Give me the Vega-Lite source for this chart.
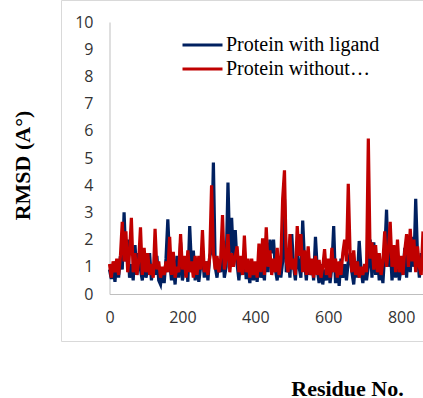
{
  "$schema": "https://vega.github.io/schema/vega-lite/v6.json",
  "width": 370,
  "height": 341,
  "autosize": "none",
  "padding": {"left": 61, "top": 0, "right": 0, "bottom": 57},
  "background": "white",
  "config": {
    "view": {"stroke": "#d9d9d9", "strokeWidth": 1},
    "axis": {
      "domainColor": "#bfbfbf",
      "ticks": false,
      "grid": false,
      "labelFont": "Open Sans",
      "labelFontSize": 16,
      "labelColor": "#333333",
      "titleFont": "Liberation Serif",
      "titleFontSize": 22,
      "titleFontWeight": "bold",
      "titleColor": "#000000"
    }
  },
  "data": {"values": [
    {"r":0,"Protein with ligand":0.9,"Protein without…":1.1},
    {"r":5,"Protein with ligand":0.55,"Protein without…":0.6},
    {"r":10,"Protein with ligand":1.0,"Protein without…":1.2},
    {"r":15,"Protein with ligand":0.45,"Protein without…":0.8},
    {"r":20,"Protein with ligand":1.2,"Protein without…":1.3},
    {"r":25,"Protein with ligand":0.6,"Protein without…":0.7},
    {"r":30,"Protein with ligand":1.4,"Protein without…":1.4},
    {"r":35,"Protein with ligand":0.9,"Protein without…":2.65},
    {"r":40,"Protein with ligand":3.0,"Protein without…":1.2},
    {"r":45,"Protein with ligand":1.2,"Protein without…":2.3},
    {"r":50,"Protein with ligand":2.0,"Protein without…":0.8},
    {"r":55,"Protein with ligand":0.6,"Protein without…":1.5},
    {"r":60,"Protein with ligand":1.1,"Protein without…":2.8},
    {"r":65,"Protein with ligand":0.5,"Protein without…":0.8},
    {"r":70,"Protein with ligand":1.8,"Protein without…":1.5},
    {"r":75,"Protein with ligand":0.7,"Protein without…":0.7},
    {"r":80,"Protein with ligand":1.5,"Protein without…":1.2},
    {"r":85,"Protein with ligand":0.9,"Protein without…":2.45},
    {"r":90,"Protein with ligand":0.5,"Protein without…":0.7},
    {"r":95,"Protein with ligand":1.3,"Protein without…":1.7},
    {"r":100,"Protein with ligand":0.6,"Protein without…":0.8},
    {"r":105,"Protein with ligand":0.9,"Protein without…":1.5},
    {"r":110,"Protein with ligand":1.5,"Protein without…":0.7},
    {"r":115,"Protein with ligand":0.5,"Protein without…":1.1},
    {"r":120,"Protein with ligand":1.0,"Protein without…":0.6},
    {"r":125,"Protein with ligand":0.7,"Protein without…":2.4},
    {"r":130,"Protein with ligand":1.4,"Protein without…":0.9},
    {"r":135,"Protein with ligand":0.5,"Protein without…":1.2},
    {"r":140,"Protein with ligand":0.35,"Protein without…":0.6},
    {"r":145,"Protein with ligand":0.9,"Protein without…":1.0},
    {"r":150,"Protein with ligand":0.4,"Protein without…":0.7},
    {"r":155,"Protein with ligand":1.3,"Protein without…":1.2},
    {"r":160,"Protein with ligand":2.75,"Protein without…":0.8},
    {"r":165,"Protein with ligand":1.2,"Protein without…":2.1},
    {"r":170,"Protein with ligand":0.5,"Protein without…":0.7},
    {"r":175,"Protein with ligand":1.0,"Protein without…":1.55},
    {"r":180,"Protein with ligand":0.35,"Protein without…":0.6},
    {"r":185,"Protein with ligand":1.4,"Protein without…":1.0},
    {"r":190,"Protein with ligand":0.6,"Protein without…":0.8},
    {"r":195,"Protein with ligand":1.9,"Protein without…":2.2},
    {"r":200,"Protein with ligand":0.5,"Protein without…":0.9},
    {"r":205,"Protein with ligand":0.9,"Protein without…":1.4},
    {"r":210,"Protein with ligand":1.3,"Protein without…":0.6},
    {"r":215,"Protein with ligand":0.45,"Protein without…":1.6},
    {"r":220,"Protein with ligand":2.5,"Protein without…":0.8},
    {"r":225,"Protein with ligand":1.0,"Protein without…":1.2},
    {"r":230,"Protein with ligand":1.6,"Protein without…":0.6},
    {"r":235,"Protein with ligand":0.5,"Protein without…":1.4},
    {"r":240,"Protein with ligand":1.2,"Protein without…":0.7},
    {"r":245,"Protein with ligand":0.45,"Protein without…":1.4},
    {"r":250,"Protein with ligand":1.0,"Protein without…":0.9},
    {"r":255,"Protein with ligand":1.5,"Protein without…":2.35},
    {"r":260,"Protein with ligand":0.6,"Protein without…":0.8},
    {"r":265,"Protein with ligand":1.2,"Protein without…":1.2},
    {"r":270,"Protein with ligand":0.5,"Protein without…":0.7},
    {"r":275,"Protein with ligand":1.4,"Protein without…":1.4},
    {"r":280,"Protein with ligand":1.6,"Protein without…":4.0},
    {"r":285,"Protein with ligand":4.83,"Protein without…":1.5},
    {"r":290,"Protein with ligand":1.0,"Protein without…":0.9},
    {"r":295,"Protein with ligand":0.6,"Protein without…":1.4},
    {"r":300,"Protein with ligand":1.3,"Protein without…":0.8},
    {"r":305,"Protein with ligand":0.8,"Protein without…":1.3},
    {"r":310,"Protein with ligand":1.9,"Protein without…":2.9},
    {"r":315,"Protein with ligand":0.6,"Protein without…":0.9},
    {"r":320,"Protein with ligand":1.0,"Protein without…":1.3},
    {"r":325,"Protein with ligand":4.1,"Protein without…":2.2},
    {"r":330,"Protein with ligand":1.5,"Protein without…":0.8},
    {"r":335,"Protein with ligand":2.8,"Protein without…":1.5},
    {"r":340,"Protein with ligand":1.3,"Protein without…":1.0},
    {"r":345,"Protein with ligand":2.35,"Protein without…":1.4},
    {"r":350,"Protein with ligand":1.1,"Protein without…":1.75},
    {"r":355,"Protein with ligand":0.5,"Protein without…":0.8},
    {"r":360,"Protein with ligand":1.3,"Protein without…":1.4},
    {"r":365,"Protein with ligand":0.7,"Protein without…":0.7},
    {"r":370,"Protein with ligand":1.6,"Protein without…":2.15},
    {"r":375,"Protein with ligand":0.55,"Protein without…":0.8},
    {"r":380,"Protein with ligand":0.9,"Protein without…":1.3},
    {"r":385,"Protein with ligand":0.4,"Protein without…":0.6},
    {"r":390,"Protein with ligand":1.2,"Protein without…":1.3},
    {"r":395,"Protein with ligand":0.5,"Protein without…":0.7},
    {"r":400,"Protein with ligand":1.0,"Protein without…":1.2},
    {"r":405,"Protein with ligand":0.45,"Protein without…":0.6},
    {"r":410,"Protein with ligand":1.3,"Protein without…":1.85},
    {"r":415,"Protein with ligand":0.6,"Protein without…":0.8},
    {"r":420,"Protein with ligand":1.0,"Protein without…":2.05},
    {"r":425,"Protein with ligand":0.5,"Protein without…":0.7},
    {"r":430,"Protein with ligand":2.0,"Protein without…":2.45},
    {"r":435,"Protein with ligand":0.8,"Protein without…":1.0},
    {"r":440,"Protein with ligand":2.0,"Protein without…":1.6},
    {"r":445,"Protein with ligand":1.5,"Protein without…":0.7},
    {"r":450,"Protein with ligand":2.0,"Protein without…":1.3},
    {"r":455,"Protein with ligand":0.9,"Protein without…":0.8},
    {"r":460,"Protein with ligand":0.5,"Protein without…":1.7},
    {"r":465,"Protein with ligand":1.3,"Protein without…":0.7},
    {"r":470,"Protein with ligand":0.6,"Protein without…":1.2},
    {"r":475,"Protein with ligand":1.2,"Protein without…":3.5},
    {"r":480,"Protein with ligand":3.5,"Protein without…":4.55},
    {"r":485,"Protein with ligand":0.8,"Protein without…":1.2},
    {"r":490,"Protein with ligand":1.4,"Protein without…":0.8},
    {"r":495,"Protein with ligand":0.6,"Protein without…":2.2},
    {"r":500,"Protein with ligand":2.2,"Protein without…":0.9},
    {"r":505,"Protein with ligand":1.0,"Protein without…":1.3},
    {"r":510,"Protein with ligand":0.5,"Protein without…":0.7},
    {"r":515,"Protein with ligand":1.6,"Protein without…":2.5},
    {"r":520,"Protein with ligand":1.0,"Protein without…":1.4},
    {"r":525,"Protein with ligand":0.6,"Protein without…":2.2},
    {"r":530,"Protein with ligand":2.7,"Protein without…":0.8},
    {"r":535,"Protein with ligand":1.2,"Protein without…":1.6},
    {"r":540,"Protein with ligand":0.5,"Protein without…":0.7},
    {"r":545,"Protein with ligand":1.5,"Protein without…":1.75},
    {"r":550,"Protein with ligand":0.7,"Protein without…":0.7},
    {"r":555,"Protein with ligand":1.2,"Protein without…":1.3},
    {"r":560,"Protein with ligand":0.5,"Protein without…":0.6},
    {"r":565,"Protein with ligand":2.1,"Protein without…":1.4},
    {"r":570,"Protein with ligand":0.9,"Protein without…":0.7},
    {"r":575,"Protein with ligand":0.4,"Protein without…":1.25},
    {"r":580,"Protein with ligand":1.1,"Protein without…":0.6},
    {"r":585,"Protein with ligand":0.35,"Protein without…":1.0},
    {"r":590,"Protein with ligand":0.9,"Protein without…":1.65},
    {"r":595,"Protein with ligand":0.5,"Protein without…":0.7},
    {"r":600,"Protein with ligand":1.2,"Protein without…":1.3},
    {"r":605,"Protein with ligand":0.4,"Protein without…":0.6},
    {"r":610,"Protein with ligand":1.0,"Protein without…":1.7},
    {"r":615,"Protein with ligand":2.5,"Protein without…":0.8},
    {"r":620,"Protein with ligand":0.4,"Protein without…":1.3},
    {"r":625,"Protein with ligand":1.0,"Protein without…":0.6},
    {"r":630,"Protein with ligand":0.3,"Protein without…":1.2},
    {"r":635,"Protein with ligand":1.3,"Protein without…":0.7},
    {"r":640,"Protein with ligand":0.6,"Protein without…":1.5},
    {"r":645,"Protein with ligand":1.1,"Protein without…":2.0},
    {"r":650,"Protein with ligand":0.5,"Protein without…":1.2},
    {"r":655,"Protein with ligand":1.2,"Protein without…":4.05},
    {"r":660,"Protein with ligand":1.5,"Protein without…":1.5},
    {"r":665,"Protein with ligand":0.8,"Protein without…":0.8},
    {"r":670,"Protein with ligand":0.35,"Protein without…":1.6},
    {"r":675,"Protein with ligand":1.2,"Protein without…":0.7},
    {"r":680,"Protein with ligand":0.6,"Protein without…":1.2},
    {"r":685,"Protein with ligand":1.95,"Protein without…":0.6},
    {"r":690,"Protein with ligand":0.9,"Protein without…":1.0},
    {"r":695,"Protein with ligand":0.4,"Protein without…":0.7},
    {"r":700,"Protein with ligand":1.0,"Protein without…":1.1},
    {"r":705,"Protein with ligand":0.5,"Protein without…":0.8},
    {"r":710,"Protein with ligand":1.0,"Protein without…":5.72},
    {"r":715,"Protein with ligand":2.0,"Protein without…":1.3},
    {"r":720,"Protein with ligand":0.6,"Protein without…":1.9},
    {"r":725,"Protein with ligand":1.9,"Protein without…":0.9},
    {"r":730,"Protein with ligand":0.7,"Protein without…":1.8},
    {"r":735,"Protein with ligand":1.4,"Protein without…":0.8},
    {"r":740,"Protein with ligand":0.5,"Protein without…":1.5},
    {"r":745,"Protein with ligand":1.0,"Protein without…":0.7},
    {"r":750,"Protein with ligand":0.4,"Protein without…":1.2},
    {"r":755,"Protein with ligand":1.5,"Protein without…":2.3},
    {"r":760,"Protein with ligand":3.1,"Protein without…":1.0},
    {"r":765,"Protein with ligand":1.0,"Protein without…":1.6},
    {"r":770,"Protein with ligand":1.8,"Protein without…":2.65},
    {"r":775,"Protein with ligand":0.5,"Protein without…":1.0},
    {"r":780,"Protein with ligand":1.2,"Protein without…":1.8},
    {"r":785,"Protein with ligand":0.6,"Protein without…":0.8},
    {"r":790,"Protein with ligand":1.3,"Protein without…":2.0},
    {"r":795,"Protein with ligand":0.5,"Protein without…":0.8},
    {"r":800,"Protein with ligand":1.0,"Protein without…":1.4},
    {"r":805,"Protein with ligand":0.7,"Protein without…":0.7},
    {"r":810,"Protein with ligand":1.7,"Protein without…":1.6},
    {"r":815,"Protein with ligand":0.6,"Protein without…":2.2},
    {"r":820,"Protein with ligand":1.9,"Protein without…":1.0},
    {"r":825,"Protein with ligand":0.8,"Protein without…":2.4},
    {"r":830,"Protein with ligand":2.1,"Protein without…":1.2},
    {"r":835,"Protein with ligand":1.0,"Protein without…":2.0},
    {"r":840,"Protein with ligand":3.5,"Protein without…":0.8},
    {"r":845,"Protein with ligand":1.4,"Protein without…":1.75},
    {"r":850,"Protein with ligand":0.6,"Protein without…":1.0},
    {"r":855,"Protein with ligand":1.5,"Protein without…":0.7},
    {"r":860,"Protein with ligand":1.0,"Protein without…":2.3}
  ]},
  "transform": [
    {"fold": ["Protein with ligand", "Protein without…"], "as": ["series", "v"]}
  ],
  "mark": {"type": "line", "strokeWidth": 3.2, "clip": true},
  "encoding": {
    "x": {
      "field": "r", "type": "quantitative",
      "scale": {"domain": [0, 860], "range": [48.5, 362], "nice": false},
      "axis": {
        "values": [0, 200, 400, 600, 800],
        "offset": -47,
        "labelPadding": 15,
        "labelFlush": false,
        "title": "Residue No.",
        "titleX": 286,
        "titleY": 101,
        "titleBaseline": "alphabetic",
        "titleAlign": "center"
      }
    },
    "y": {
      "field": "v", "type": "quantitative",
      "scale": {"domain": [0, 10], "range": [294, 22], "nice": false},
      "axis": {
        "values": [0, 1, 2, 3, 4, 5, 6, 7, 8, 9, 10],
        "offset": -48.5,
        "labelPadding": 16.5,
        "title": "RMSD (A°)",
        "titleX": -87.5,
        "titleY": 165,
        "titleAngle": -90,
        "titleBaseline": "middle",
        "titleAlign": "center"
      }
    },
    "color": {
      "field": "series", "type": "nominal",
      "scale": {"domain": ["Protein with ligand", "Protein without…"], "range": ["#002060", "#C00000"]},
      "legend": {
        "title": null,
        "orient": "none",
        "legendX": 120,
        "legendY": 34,
        "symbolType": "stroke",
        "symbolSize": 1600,
        "symbolStrokeWidth": 3,
        "clipHeight": 22,
        "labelFont": "Liberation Serif",
        "labelFontSize": 20,
        "labelColor": "#000000",
        "labelOffset": 2,
        "labelLimit": 300,
        "rowPadding": 2
      }
    }
  }
}
